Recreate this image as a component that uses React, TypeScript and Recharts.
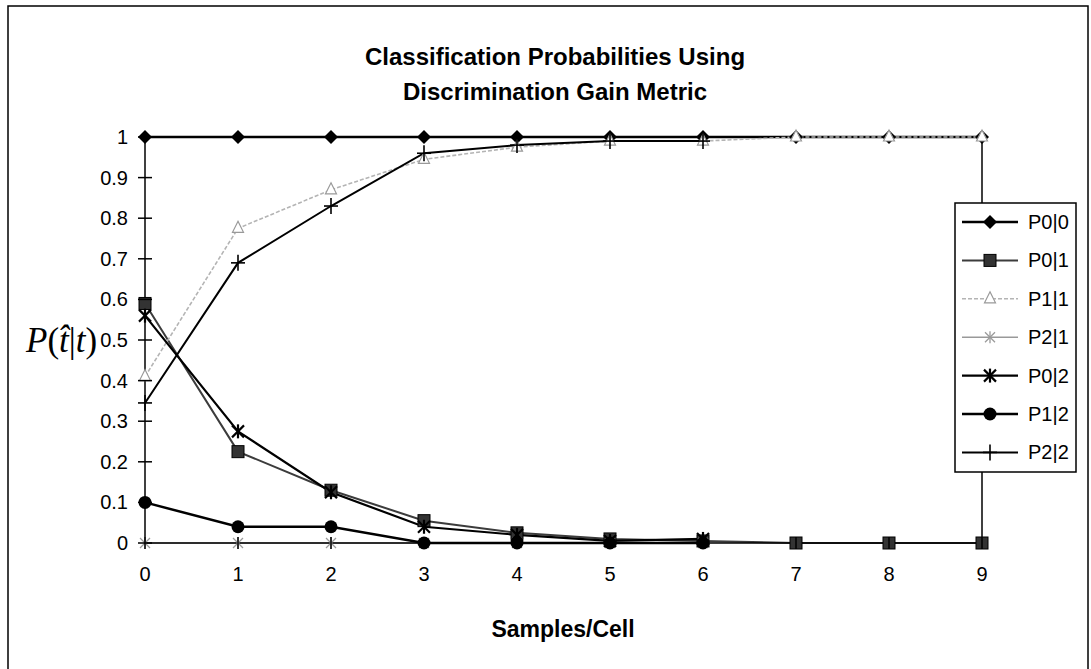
import React from "react";
import { LineChart, Line, XAxis, YAxis, ReferenceLine } from "recharts";

// ---- data ----
const samples = [0, 1, 2, 3, 4, 5, 6, 7, 8, 9];
const p0given0 = [1, 1, 1, 1, 1, 1, 1, 1, 1, 1];
const p0given1 = [0.59, 0.225, 0.13, 0.055, 0.025, 0.01, 0.005, 0, 0, 0];
const p1given1 = [0.41, 0.775, 0.87, 0.945, 0.975, 0.99, 0.99, 1, 1, 1];
const p2given1 = [0, 0, 0, 0, 0, 0, 0, null, null, null];
const p0given2 = [0.56, 0.275, 0.125, 0.04, 0.02, 0.005, 0.01, null, null, null];
const p1given2 = [0.1, 0.04, 0.04, 0, 0, 0, 0, null, null, null];
const p2given2 = [0.345, 0.69, 0.83, 0.96, 0.98, 0.99, 0.99, null, null, null];

const yTicks = [0, 0.1, 0.2, 0.3, 0.4, 0.5, 0.6, 0.7, 0.8, 0.9, 1];
const yTickLabels = ["0", "0.1", "0.2", "0.3", "0.4", "0.5", "0.6", "0.7", "0.8", "0.9", "1"];
const xTicks = [0, 1, 2, 3, 4, 5, 6, 7, 8, 9];

const titleLines = ["Classification Probabilities Using", "Discrimination Gain Metric"];
const xTitle = "Samples/Cell";

type Shape = "diamond" | "square" | "triangle" | "xstar" | "star" | "circle" | "plus";

const seriesDefs: { key: string; name: string; values: (number | null)[]; shape: Shape; stroke: string; width: number; dash?: string }[] = [
  { key: "p00", name: "P0|0", values: p0given0, shape: "diamond", stroke: "#000", width: 2.5 },
  { key: "p01", name: "P0|1", values: p0given1, shape: "square", stroke: "#3c3c3c", width: 2 },
  { key: "p11", name: "P1|1", values: p1given1, shape: "triangle", stroke: "#b4b4b4", width: 1.6, dash: "4 2" },
  { key: "p21", name: "P2|1", values: p2given1, shape: "xstar", stroke: "#999", width: 1.6 },
  { key: "p02", name: "P0|2", values: p0given2, shape: "star", stroke: "#000", width: 2.2 },
  { key: "p12", name: "P1|2", values: p1given2, shape: "circle", stroke: "#000", width: 2.5 },
  { key: "p22", name: "P2|2", values: p2given2, shape: "plus", stroke: "#000", width: 2 },
];

const data = samples.map((s, i) => {
  const row: any = { x: s };
  seriesDefs.forEach((d) => {
    row[d.key] = d.values[i];
  });
  return row;
});

function Marker({ shape, cx, cy }: { shape: Shape; cx: number; cy: number }) {
  switch (shape) {
    case "diamond":
      return <polygon points={`${cx},${cy - 7} ${cx + 7},${cy} ${cx},${cy + 7} ${cx - 7},${cy}`} fill="#000" />;
    case "square":
      return <rect x={cx - 6} y={cy - 6} width={12} height={12} fill="#333" stroke="#000" strokeWidth={1} />;
    case "triangle":
      return (
        <polygon
          points={`${cx},${cy - 7} ${cx + 5.5},${cy + 4} ${cx - 5.5},${cy + 4}`}
          fill="#fff"
          stroke="#999"
          strokeWidth={1.2}
        />
      );
    case "xstar":
      return (
        <g stroke="#9a9a9a" strokeWidth={1.3}>
          <line x1={cx - 5} y1={cy - 5} x2={cx + 5} y2={cy + 5} />
          <line x1={cx - 5} y1={cy + 5} x2={cx + 5} y2={cy - 5} />
          <line x1={cx} y1={cy - 6} x2={cx} y2={cy + 6} />
        </g>
      );
    case "star":
      return (
        <g stroke="#000" strokeWidth={2.2}>
          <line x1={cx - 6} y1={cy - 6} x2={cx + 6} y2={cy + 6} />
          <line x1={cx - 6} y1={cy + 6} x2={cx + 6} y2={cy - 6} />
          <line x1={cx} y1={cy - 7} x2={cx} y2={cy + 7} />
        </g>
      );
    case "circle":
      return <circle cx={cx} cy={cy} r={6.5} fill="#000" />;
    case "plus":
      return (
        <g stroke="#000" strokeWidth={1.6}>
          <line x1={cx - 7} y1={cy} x2={cx + 7} y2={cy} />
          <line x1={cx} y1={cy - 8} x2={cx} y2={cy + 8} />
        </g>
      );
  }
  return null;
}

const AXIS_FONT = "'Liberation Sans', Arial, sans-serif";

function YTick(props: any) {
  const { x, y, index } = props;
  return (
    <g>
      <line x1={x - 7} y1={y} x2={x + 7} y2={y} stroke="#000" strokeWidth={1.5} />
      <text x={x - 17} y={y + 7} textAnchor="end" fontSize={20} fontFamily={AXIS_FONT} fill="#000">
        {yTickLabels[index]}
      </text>
    </g>
  );
}

function XTick(props: any) {
  const { x, y, payload } = props;
  return (
    <g>
      <line x1={x} y1={y - 6} x2={x} y2={y + 6} stroke="#000" strokeWidth={1.5} />
      <text x={x} y={y + 38} textAnchor="middle" fontSize={20} fontFamily={AXIS_FONT} fill="#000">
        {String(payload.value)}
      </text>
    </g>
  );
}

const LEG_X = 955;
const LEG_Y = 203;
const LEG_W = 121;
const LEG_H = 269;

export default function App() {
  return (
    <div style={{ position: "absolute", left: 0, top: 0, width: 1091, height: 669, background: "#fff" }}>
      <LineChart
        width={1091}
        height={669}
        data={data}
        margin={{ top: 137, right: 109, left: 85, bottom: 96 }}
      >
        <XAxis
          dataKey="x"
          type="number"
          domain={[0, 9]}
          ticks={xTicks}
          height={30}
          tickLine={false}
          tickSize={0}
          tickMargin={0}
          axisLine={{ stroke: "#000", strokeWidth: 1.5 }}
          tick={<XTick />}
          interval={0}
        />
        <YAxis
          type="number"
          domain={[0, 1]}
          ticks={yTicks}
          width={60}
          tickLine={false}
          tickSize={0}
          tickMargin={0}
          axisLine={{ stroke: "#000", strokeWidth: 1.5 }}
          tick={<YTick />}
          interval={0}
        />
        <ReferenceLine x={9} stroke="#000" strokeWidth={1.5} />
        <ReferenceLine y={1} stroke="#000" strokeWidth={1.5} />
        {seriesDefs.map((s) => (
          <Line
            key={s.key}
            dataKey={s.key}
            name={s.name}
            type="linear"
            stroke={s.stroke}
            strokeWidth={s.width}
            strokeDasharray={s.dash}
            isAnimationActive={false}
            connectNulls={false}
            activeDot={false}
            dot={(p: any) =>
              p.value == null || p.cy == null ? (
                <g key={`${s.key}-${p.index}`} />
              ) : (
                <g key={`${s.key}-${p.index}`}>
                  <Marker shape={s.shape} cx={p.cx} cy={p.cy} />
                </g>
              )
            }
          />
        ))}
      </LineChart>
      <svg
        width={1091}
        height={669}
        style={{ position: "absolute", left: 0, top: 0, pointerEvents: "none" }}
      >
        {/* outer frame */}
        <rect x={8} y={6} width={1080} height={680} fill="none" stroke="#000" strokeWidth={1.5} />
        {/* title */}
        {titleLines.map((t, i) => (
          <text
            key={i}
            x={555}
            y={65 + i * 35}
            textAnchor="middle"
            fontSize={24}
            fontWeight="bold"
            fontFamily={AXIS_FONT}
            fill="#000"
          >
            {t}
          </text>
        ))}
        {/* x axis title */}
        <text x={563} y={637} textAnchor="middle" fontSize={23} fontWeight="bold" fontFamily={AXIS_FONT} fill="#000">
          {xTitle}
        </text>
        {/* y axis title */}
        <text x={26} y={352} fontSize={35} fontFamily="'Liberation Serif', 'Times New Roman', serif" fill="#000">
          <tspan fontStyle="italic">P</tspan>
          <tspan>(</tspan>
          <tspan fontStyle="italic">{"t\u0302"}</tspan>
          <tspan>|</tspan>
          <tspan fontStyle="italic">t</tspan>
          <tspan>)</tspan>
        </text>
        {/* legend */}
        <rect x={LEG_X} y={LEG_Y} width={LEG_W} height={LEG_H} fill="#fff" stroke="#000" strokeWidth={1.5} />
        {seriesDefs.map((s, i) => {
          const cy = 222 + i * 38.4;
          return (
            <g key={s.key}>
              <line
                x1={962}
                y1={cy}
                x2={1018}
                y2={cy}
                stroke={s.stroke}
                strokeWidth={s.width}
                strokeDasharray={s.dash}
              />
              <Marker shape={s.shape} cx={990} cy={cy} />
              <text x={1028} y={cy + 7} fontSize={20} fontFamily={AXIS_FONT} fill="#000">
                {s.name}
              </text>
            </g>
          );
        })}
      </svg>
    </div>
  );
}
